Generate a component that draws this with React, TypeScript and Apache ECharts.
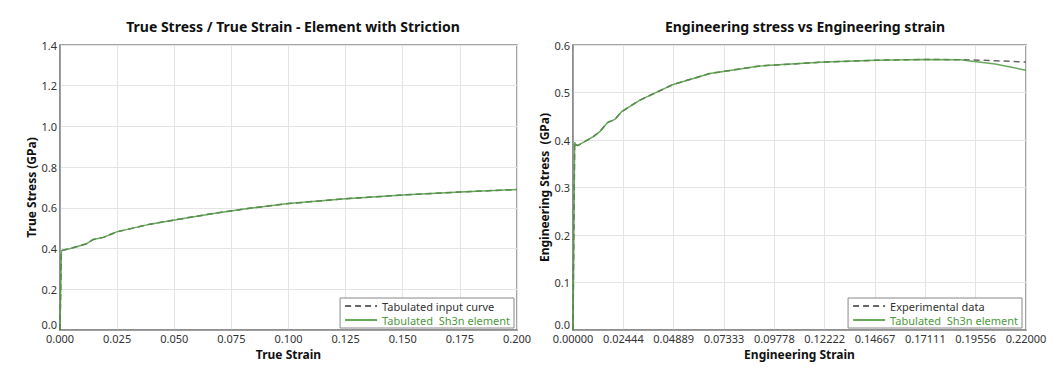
import React, { useEffect, useRef } from "react";
import * as echarts from "echarts";

// Left chart: true stress / true strain
const trueStrain = [0, 0.0006, 0.005, 0.0117, 0.0146, 0.019, 0.0248, 0.0394, 0.054, 0.0686, 0.083, 0.1, 0.125, 0.15, 0.175, 0.2];
const trueStressInput = [0, 0.39, 0.402, 0.424, 0.445, 0.455, 0.482, 0.52, 0.548, 0.575, 0.598, 0.621, 0.645, 0.663, 0.678, 0.69];
const trueStressSh3n = [0, 0.39, 0.402, 0.424, 0.445, 0.455, 0.482, 0.52, 0.548, 0.575, 0.598, 0.621, 0.645, 0.663, 0.678, 0.69];

// Right chart: engineering stress / engineering strain
const engStrain = [0, 0.0008, 0.0014, 0.0022, 0.0099, 0.013, 0.0167, 0.0204, 0.0236, 0.0325, 0.0487, 0.0665, 0.0908, 0.122, 0.147, 0.171, 0.188, 0.205, 0.22];
const engStressExp = [0, 0.395, 0.39, 0.388, 0.407, 0.4175, 0.4365, 0.4435, 0.4595, 0.484, 0.517, 0.54, 0.556, 0.564, 0.568, 0.5695, 0.569, 0.567, 0.564];
const engStressSh3n = [0, 0.395, 0.39, 0.388, 0.407, 0.4175, 0.4365, 0.4435, 0.4595, 0.484, 0.517, 0.54, 0.556, 0.564, 0.568, 0.5695, 0.569, 0.56, 0.547];

const leftTitle = "True Stress / True Strain - Element with Striction";
const rightTitle = "Engineering stress vs Engineering strain";
const nameInput = "Tabulated input curve";
const nameExp = "Experimental data";
const nameSh3n = "Tabulated  Sh3n element";

const GREEN = "#4f9a3e";
const GRAY = "#666666";
const FONT = "Noto Sans";

const zip = (xs: number[], ys: number[]) => xs.map((x, i) => [x, ys[i]]);

export default function App() {
  const ref = useRef<HTMLDivElement>(null);
  useEffect(() => {
    if (!ref.current) return;
    const chart = echarts.init(ref.current, null, { renderer: "svg" });
    const axisCommon = {
      axisLine: { show: true, lineStyle: { color: "#888", width: 1.5 } },
      axisTick: { show: false },
      splitLine: { show: true, lineStyle: { color: "#e4e4e4" } },
      nameLocation: "middle" as const,
      nameTextStyle: { fontWeight: "bold", fontSize: 12, color: "#111", fontFamily: FONT },
    };
    const labelStyle = { color: "#333", fontSize: 11, fontFamily: FONT };
    const legendCommon = {
      orient: "vertical" as const,
      bottom: 49,
      borderColor: "#888",
      borderWidth: 1,
      borderRadius: 0,
      padding: [2, 4, 2, 4],
      itemGap: 2,
      itemWidth: 32,
      itemHeight: 8,
      itemStyle: { opacity: 0 },
      textStyle: { fontSize: 11, lineHeight: 12, fontFamily: FONT, color: "#333" },
      backgroundColor: "#fff",
    };
    chart.setOption({
      animation: false,
      textStyle: { fontFamily: FONT },
      title: [
        { text: leftTitle, left: 288, top: 14, textAlign: "center", textStyle: { fontSize: 14, fontWeight: "bold", color: "#111", fontFamily: FONT } },
        { text: rightTitle, left: 800, top: 14, textAlign: "center", textStyle: { fontSize: 14, fontWeight: "bold", color: "#111", fontFamily: FONT } },
      ],
      grid: [
        { left: 60, top: 45, width: 457, height: 285, show: true, borderColor: "#888", borderWidth: 1.5, backgroundColor: "#fff" },
        { left: 573, top: 45, width: 453, height: 285, show: true, borderColor: "#888", borderWidth: 1.5, backgroundColor: "#fff" },
      ],
      legend: [
        {
          ...legendCommon,
          right: 549,
          data: [
            { name: nameInput, textStyle: { color: "#333" } },
            { name: nameSh3n, textStyle: { color: GREEN } },
          ],
        },
        {
          ...legendCommon,
          right: 41,
          data: [
            { name: nameExp, textStyle: { color: "#333" } },
            { name: nameSh3n, textStyle: { color: GREEN } },
          ],
        },
      ],
      xAxis: [
        {
          ...axisCommon,
          type: "value",
          gridIndex: 0,
          min: 0,
          max: 0.2,
          interval: 0.025,
          name: "True Strain",
          nameGap: 15,
          axisLabel: { ...labelStyle, margin: 3, formatter: (v: number) => v.toFixed(3) },
        },
        {
          ...axisCommon,
          type: "value",
          gridIndex: 1,
          min: 0,
          max: 0.22,
          interval: 0.22 / 9,
          name: "Engineering Strain",
          nameGap: 15,
          axisLabel: { ...labelStyle, margin: 3, formatter: (v: number) => v.toFixed(5) },
        },
      ],
      yAxis: [
        {
          ...axisCommon,
          type: "value",
          gridIndex: 0,
          min: 0,
          max: 1.4,
          interval: 0.2,
          name: "True Stress (GPa)",
          nameGap: 21,
          axisLabel: { ...labelStyle, margin: 3, verticalAlignMinLabel: "bottom", formatter: (v: number) => v.toFixed(1) },
        },
        {
          ...axisCommon,
          type: "value",
          gridIndex: 1,
          min: 0,
          max: 0.6,
          interval: 0.1,
          name: "Engineering Stress  (GPa)",
          nameGap: 21,
          axisLabel: { ...labelStyle, margin: 3, verticalAlignMinLabel: "bottom", formatter: (v: number) => v.toFixed(1) },
        },
      ],
      series: [
        {
          name: nameInput,
          type: "line",
          xAxisIndex: 0,
          yAxisIndex: 0,
          data: zip(trueStrain, trueStressInput),
          showSymbol: false,
          symbol: "none",
          color: GRAY,
          lineStyle: { color: GRAY, width: 1.5, type: [6, 4] },
          z: 2,
        },
        {
          name: nameSh3n,
          type: "line",
          xAxisIndex: 0,
          yAxisIndex: 0,
          data: zip(trueStrain, trueStressSh3n),
          showSymbol: false,
          symbol: "none",
          color: GREEN,
          lineStyle: { color: GREEN, width: 1.5, opacity: 0.85 },
          z: 3,
        },
        {
          name: nameExp,
          type: "line",
          xAxisIndex: 1,
          yAxisIndex: 1,
          data: zip(engStrain, engStressExp),
          showSymbol: false,
          symbol: "none",
          color: GRAY,
          lineStyle: { color: GRAY, width: 1.5, type: [6, 4] },
          z: 2,
        },
        {
          name: nameSh3n,
          type: "line",
          xAxisIndex: 1,
          yAxisIndex: 1,
          data: zip(engStrain, engStressSh3n),
          showSymbol: false,
          symbol: "none",
          color: GREEN,
          lineStyle: { color: GREEN, width: 1.5, opacity: 0.85 },
          z: 3,
        },
      ],
    });
    return () => chart.dispose();
  }, []);
  return <div ref={ref} style={{ position: "fixed", left: 0, top: 0, width: 1063, height: 377, background: "#fff" }} />;
}
